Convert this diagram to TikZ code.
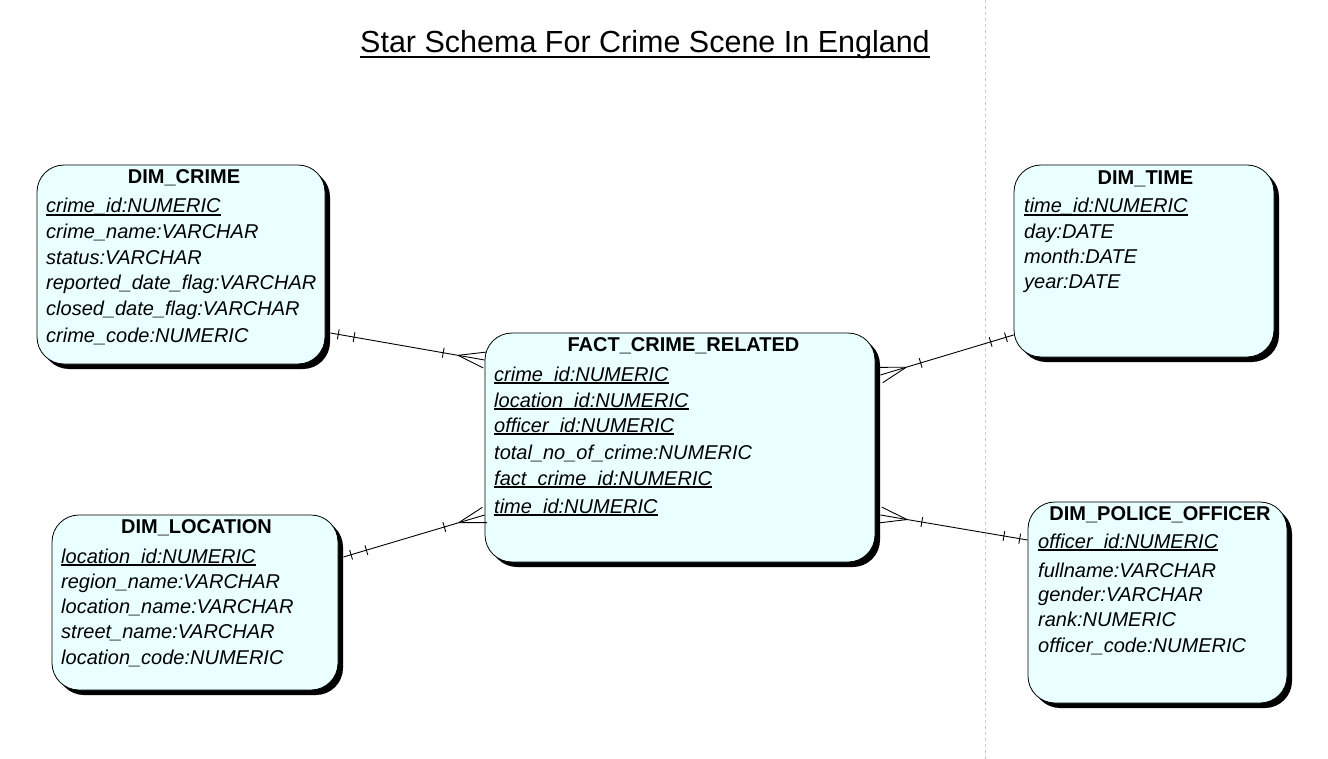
\documentclass[tikz,border=0pt]{standalone}
\usepackage{fontspec}
\setmainfont{Liberation Sans}
\usetikzlibrary{shadows,decorations.markings,calc}
\definecolor{entityfill}{RGB}{234,255,255}
\definecolor{sepgray}{RGB}{200,200,200}
\newsavebox\ulbox
% key attributes are underlined just below the baseline
\newcommand\keyfield[1]{\sbox\ulbox{#1}\rlap{\rule[-2.6pt]{\wd\ulbox}{1.2pt}}\usebox\ulbox}
\newcommand\titleul[1]{\sbox\ulbox{#1}\rlap{\rule[-5.6pt]{\wd\ulbox}{1.8pt}}\usebox\ulbox}
\begin{document}
\begin{tikzpicture}[x=1pt,y=-1pt,
  entity/.style={draw=black, line width=0.8pt, fill=entityfill, rounded corners=27pt,
    inner sep=0pt, drop shadow={shadow xshift=5pt, shadow yshift=-5pt, fill=black, opacity=1}},
  header/.style={anchor=base, inner sep=0pt, font=\fontsize{20}{24}\selectfont\bfseries},
  field/.style={anchor=base west, inner sep=0pt, font=\fontsize{20}{24}\selectfont\itshape},
  heading/.style={anchor=base, inner sep=0pt, font=\fontsize{30.5}{36}\selectfont},
  separator/.style={draw=sepgray, line width=0.8pt, dash pattern=on 3pt off 3pt},
  rel/.style={line width=0.9pt, postaction={decorate}, decoration={markings,
    mark=at position 8pt with {\draw[line width=0.9pt] (0pt,-5pt) -- (0pt,5pt);},
    mark=at position 24pt with {\draw[line width=0.9pt] (0pt,-5pt) -- (0pt,5pt);},
    mark=at position -42pt with {\draw[line width=0.9pt] (0pt,-5pt) -- (0pt,5pt);},
    mark=at position -27pt with {\draw[line width=0.9pt] (0pt,0pt) -- (27pt,8pt) (0pt,0pt) -- (27pt,-8pt);}}}
]
\useasboundingbox[fill=white] (0,0) rectangle (1328,759);

% vertical page separator
\coordinate (sepTop) at (985,0);
\coordinate (sepBot) at (985,759);
\draw[separator] (sepTop) -- (sepBot);

% title
\node[heading] (title) at (645,52.5) {\titleul{Star Schema For Crime Scene In England}};

% entity boxes
\node[entity, minimum width=288pt, minimum height=199pt] (crime) at (181,264.5) {};
\node[entity, minimum width=260pt, minimum height=192pt] (time) at (1144,261) {};
\node[entity, minimum width=390pt, minimum height=229pt] (fact) at (680,447.5) {};
\node[entity, minimum width=286pt, minimum height=175pt] (location) at (195,602.5) {};
\node[entity, minimum width=259pt, minimum height=201pt] (officer) at (1157.5,602.5) {};

% headers
\node[header] (crimeH) at (184,184) {DIM\_CRIME};
\node[header] (timeH) at (1145.5,185) {DIM\_TIME};
\node[header] (factH) at (683.5,352) {FACT\_CRIME\_RELATED};
\node[header] (locationH) at (196.5,533) {DIM\_LOCATION};
\node[header] (officerH) at (1160,520) {DIM\_POLICE\_OFFICER};

% attributes
\foreach \y/\t [count=\i] in {213/{\keyfield{crime\_id:NUMERIC}}, 239/{crime\_name:VARCHAR},
  265/{status:VARCHAR}, 290/{reported\_date\_flag:VARCHAR}, 316/{closed\_date\_flag:VARCHAR},
  342/{crime\_code:NUMERIC}}
  \node[field] (crimeF\i) at (46,\y) {\t};
\foreach \y/\t [count=\i] in {213/{\keyfield{time\_id:NUMERIC}}, 239/{day:DATE},
  264/{month:DATE}, 289/{year:DATE}}
  \node[field] (timeF\i) at (1024,\y) {\t};
\foreach \y/\t [count=\i] in {381/{\keyfield{crime\_id:NUMERIC}}, 407/{\keyfield{location\_id:NUMERIC}},
  432/{\keyfield{officer\_id:NUMERIC}}, 459/{total\_no\_of\_crime:NUMERIC},
  485/{\keyfield{fact\_crime\_id:NUMERIC}}, 513/{\keyfield{time\_id:NUMERIC}}}
  \node[field] (factF\i) at (494,\y) {\t};
\foreach \y/\t [count=\i] in {563/{\keyfield{location\_id:NUMERIC}}, 588/{region\_name:VARCHAR},
  613/{location\_name:VARCHAR}, 638/{street\_name:VARCHAR}, 664/{location\_code:NUMERIC}}
  \node[field] (locationF\i) at (61,\y) {\t};
\foreach \y/\t [count=\i] in {548/{\keyfield{officer\_id:NUMERIC}}, 577/{fullname:VARCHAR},
  601/{gender:VARCHAR}, 626/{rank:NUMERIC}, 652/{officer\_code:NUMERIC}}
  \node[field] (officerF\i) at (1038,\y) {\t};

% relationships: exactly one at the dimension, one or many at the fact
\coordinate (r1a) at ($(crime.east |- 0,333)+(5,0)$);
\coordinate (r1b) at (fact.west |- 0,360);
\coordinate (r2a) at ($(location.east |- 0,557)+(5,0)$);
\coordinate (r2b) at (fact.west |- 0,515);
\coordinate (r3a) at (time.west |- 0,335);
\coordinate (r3b) at ($(fact.east |- 0,375)+(5,0)$);
\coordinate (r4a) at (officer.west |- 0,540);
\coordinate (r4b) at ($(fact.east |- 0,515)+(5,0)$);
\draw[rel] (r1a) -- (r1b);
\draw[rel] (r2a) -- (r2b);
\draw[rel] (r3a) -- (r3b);
\draw[rel] (r4a) -- (r4b);
\end{tikzpicture}
\end{document}
